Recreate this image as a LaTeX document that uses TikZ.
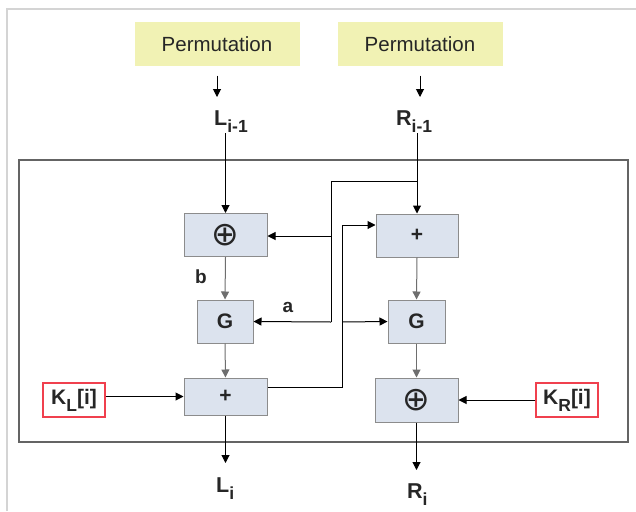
\documentclass[tikz,border=0pt]{standalone}
\usepackage{fontspec}
\setmainfont{Liberation Sans}
\newfontfamily\symfont{DejaVu Sans}
\usetikzlibrary{arrows.meta}
\definecolor{FPerm}{HTML}{F1F2B4}
\definecolor{FBox}{HTML}{DCE3EE}
\definecolor{FEdge}{HTML}{8C8C8C}
\definecolor{FFrame}{HTML}{646464}
\definecolor{FPage}{HTML}{D4D4D4}
\definecolor{FKey}{HTML}{F0404E}
\definecolor{FFlow}{HTML}{6E6E6E}
\definecolor{FText}{HTML}{262626}
\newcommand\lowidx[1]{\raisebox{-7pt}{\fontsize{17.5}{17.5}\selectfont #1}}
\newcommand\xorsym{{\symfont\mdseries\fontsize{33}{33}\selectfont ⊕}}

\begin{document}
\begin{tikzpicture}[x=1pt,y=-1pt,
  permbox/.style={fill=FPerm,minimum width=165pt,minimum height=43pt,inner sep=0pt,font=\fontsize{20.5}{23}\selectfont,text=FText},
  opbox/.style={draw=FEdge,fill=FBox,line width=1pt,minimum height=43pt,inner sep=0pt,font=\bfseries\fontsize{21}{24}\selectfont,text=FText},
  keybox/.style={draw=FKey,fill=white,line width=1.2pt,minimum width=62pt,minimum height=34pt,inner sep=0pt,font=\bfseries\fontsize{21}{24}\selectfont,text=FText},
  lbl/.style={font=\bfseries\fontsize{21.5}{24}\selectfont,text=FText,inner sep=1pt},
  arr/.style={-{Triangle[length=8pt,width=8pt]},line width=1pt,black},
  flow/.style={-{Triangle[length=8pt,width=8pt]},line width=1pt,FFlow},
  wire/.style={line width=1pt,black}]
\path[use as bounding box] (0,0) rectangle (636,511);
\fill[white] (0,0) rectangle (636,511);
\draw[FPage,line width=2pt] (7,511) -- (7,9) -- (636,9);
\draw[FFrame,line width=1.5pt] (19,160) rectangle (628,442);
\node[permbox] (perml) at (217,44) {Permutation};
\node[permbox] (permr) at (420,44) {Permutation};
\node[lbl,anchor=base west] (lin) at (213,125) {L\lowidx{i-1}};
\node[lbl,anchor=base west] (rin) at (395,125) {R\lowidx{i-1}};
\node[opbox,minimum width=83pt] (xorl) at (225.5,235) {\xorsym};
\node[opbox,minimum width=82pt] (addr) at (417,235.5) {+};
\node[opbox,minimum width=56pt] (gl) at (225,321.5) {G};
\node[opbox,minimum width=57pt] (gr) at (416.5,321.5) {G};
\node[opbox,minimum width=83pt,minimum height=37pt] (addl) at (225.5,396.5) {+};
\node[opbox,minimum width=83pt,minimum height=44pt] (xorr) at (416.5,400) {\xorsym};
\node[keybox] (kl) at (74,400) {K\lowidx{L}[i]};
\node[keybox] (kr) at (567,400) {K\lowidx{R}[i]};
\node[lbl,anchor=base west] (lout) at (215,492) {L\lowidx{i}};
\node[lbl,anchor=base west] (rout) at (406,498) {R\lowidx{i}};
\node[lbl,font=\bfseries\fontsize{19}{22}\selectfont] (lblb) at (201,277) {b};
\node[lbl,font=\bfseries\fontsize{19}{22}\selectfont] (lbla) at (288,307) {a};
\coordinate (tapr) at (417,181);
\coordinate (turnr) at (331,181);
\coordinate (splitl) at (331,236);
\coordinate (turnl) at (331,322);
\coordinate (outl) at (342,387);
\coordinate (upl) at (342,225);
\coordinate (splitr) at (342,322);
\draw[arr,shorten <=10pt,shorten >=12pt] (perml.south) -- (perml.south |- lin.north);
\draw[arr,shorten <=10pt,shorten >=12pt] (permr.south) -- (permr.south |- rin.north);
\draw[arr] (lin.south -| xorl.north) -- (xorl.north);
\draw[arr] (rin.south -| addr.north) -- (addr.north);
\draw[wire] (tapr) -- (turnr) -- (turnl);
\draw[arr] (turnl) -- (gl.east);
\draw[arr] (splitl) -- (xorl.east |- splitl);
\draw[wire] (addl.east |- outl) -- (outl) -- (upl);
\draw[arr] (upl) -- (addr.west |- upl);
\draw[arr] (splitr) -- (gr.west);
\draw[flow] (xorl.south) -- (gl.north);
\draw[flow] (gl.south) -- (addl.north);
\draw[flow] (addr.south) -- (gr.north);
\draw[flow] (gr.south) -- (xorr.north);
\draw[arr] (kl.east |- addl.west) -- (addl.west);
\draw[arr] (kr.west) -- (xorr.east);
\draw[arr,shorten >=13pt] (addl.south) -- (addl.south |- lout.north);
\draw[arr,shorten >=12pt] (xorr.south) -- (xorr.south |- rout.north);
\end{tikzpicture}
\end{document}
